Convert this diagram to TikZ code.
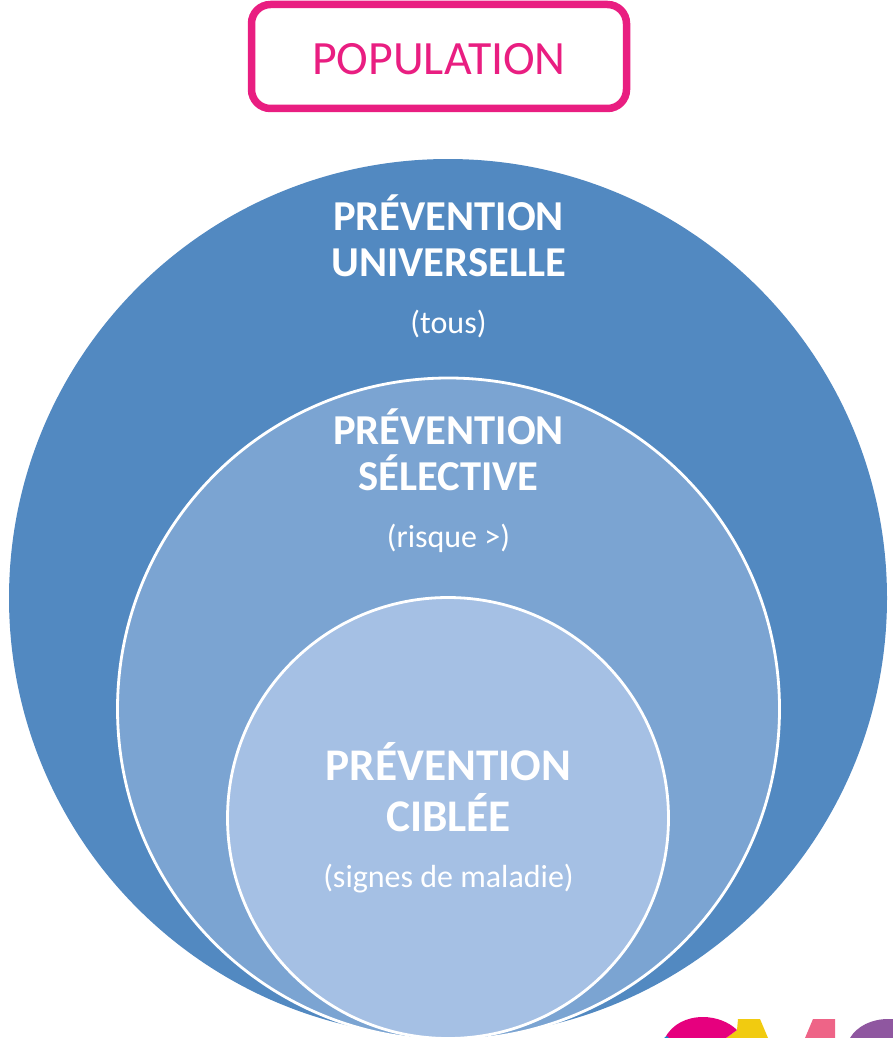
\documentclass[tikz,border=0pt]{standalone}
\usepackage{fontspec}
\setmainfont{Carlito}
\definecolor{pinkc}{HTML}{E91E81}
\definecolor{bluea}{HTML}{5289C1}
\definecolor{blueb}{HTML}{7BA4D2}
\definecolor{bluec}{HTML}{A5C0E4}
\definecolor{logomag}{HTML}{E6007E}
\definecolor{logoyel}{HTML}{F1CB10}
\definecolor{logopink}{HTML}{EE6487}
\definecolor{logopur}{HTML}{8F57A0}
\tikzset{
  popbox/.style={draw=pinkc,line width=7.5pt,rounded corners=19pt,fill=white,minimum width=375pt,minimum height=104pt,inner sep=0pt},
  ring/.style={circle,draw=white,line width=2.8pt,inner sep=0pt},
  title/.style={text=white,font=\fontsize{42.6}{46.5}\selectfont\bfseries,align=center,inner sep=0pt},
  titlebig/.style={text=white,font=\fontsize{45.3}{51.5}\selectfont\bfseries,align=center,inner sep=0pt},
  note/.style={text=white,font=\fontsize{32}{38}\selectfont,inner sep=0pt},
}
\begin{document}
\begin{tikzpicture}[x=1pt,y=-1pt]
\useasboundingbox (0,0) rectangle (893,1038);
\clip (0,0) rectangle (893,1038);
\node[popbox] (pop) at (439,56.5) {};
\node[text=pinkc,font=\fontsize{47.8}{56}\selectfont,inner sep=0pt] (poplabel) at (439,59) {POPULATION};
\node[circle,fill=bluea,minimum size=878pt,inner sep=0pt] (u) at (448,598) {};
\node[ring,fill=blueb,minimum size=662pt] (s) at (448.5,709) {};
\node[ring,fill=bluec,minimum size=441pt] (c) at (448,818) {};
\node[title] (ut) at (448.5,236) {PRÉVENTION\\UNIVERSELLE};
\node[note] (un) at (448.5,324) {(tous)};
\node[title] (st) at (448.5,450) {PRÉVENTION\\SÉLECTIVE};
\node[note] (sn) at (448.5,538) {(risque >)};
\node[titlebig] (ct) at (448.5,787) {PRÉVENTION\\CIBLÉE};
\node[note] (cn) at (448.5,879) {(signes de maladie)};
% logo fragment
\fill[logoyel] (738,1019) -- (760,1019) -- (768,1038) -- (726,1038) -- (737,1030) -- cycle;
\fill[logomag] (665,1038) .. controls (672,1024) and (687,1017) .. (703,1017) .. controls (716,1017) and (729,1022) .. (737,1030) -- (726,1038) -- cycle;
\fill[cyan!70!blue] (664,1038) -- (667,1036) -- (669,1038) -- cycle;
\fill[logopink] (813,1019) -- (835,1019) -- (835,1038) -- (805,1038) -- cycle;
\fill[logopur] (850,1038) .. controls (857,1026) and (872,1019) .. (888,1019) -- (893,1019) -- (893,1038) -- cycle;
\end{tikzpicture}
\end{document}
